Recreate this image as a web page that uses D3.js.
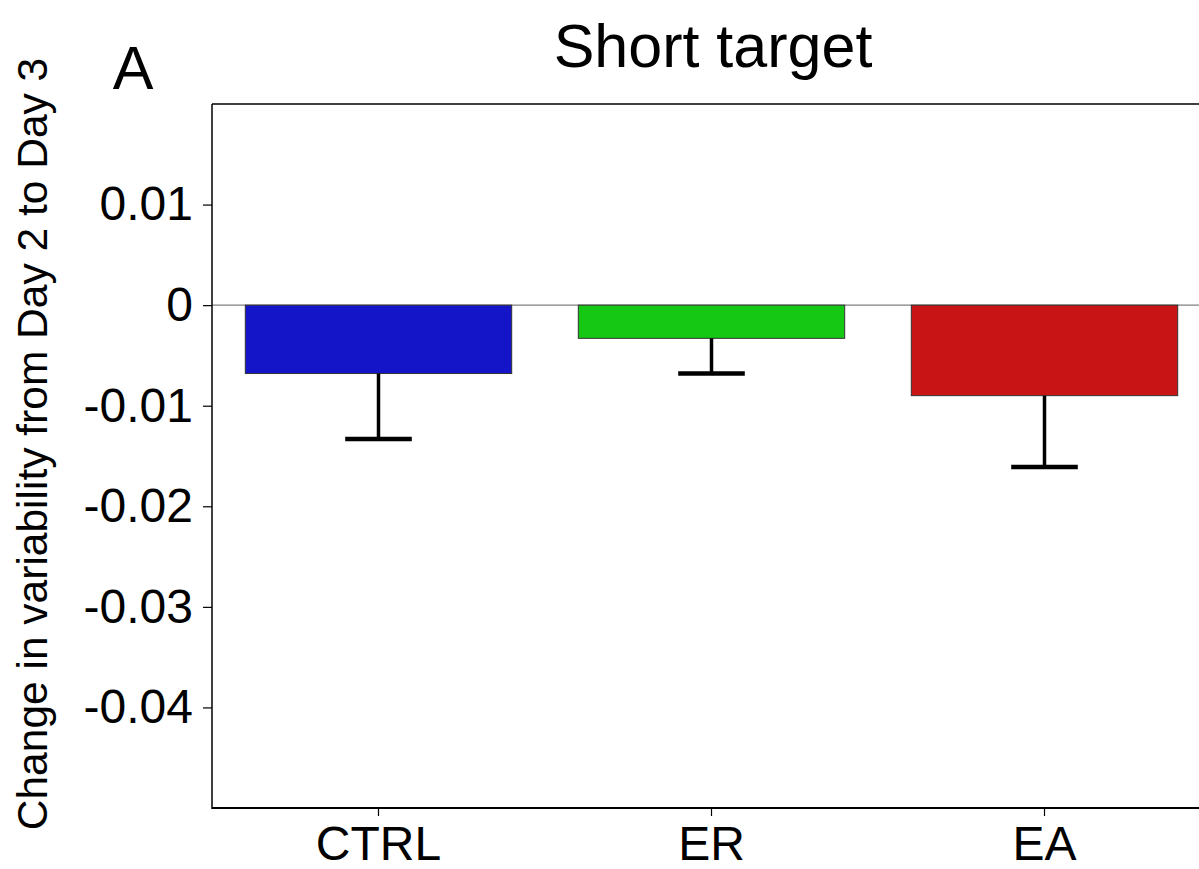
<!DOCTYPE html>
<html>
<head>
<meta charset="utf-8">
<script src="https://cdn.jsdelivr.net/npm/d3@7/dist/d3.min.js"></script>
<style>
  body { margin: 0; background: #fff; }
  svg { display: block; font-family: "Liberation Sans", Arial, sans-serif; }
</style>
</head>
<body>
<div id="chart"></div>
<script>
// data
const groups = ["CTRL", "ER", "EA"];
const means = [-0.0068, -0.0033, -0.0090];
const errs = [0.0065, 0.0035, 0.0071];
const colors = ["#1414c8", "#14c814", "#c81414"];
const yTicks = [0.01, 0, -0.01, -0.02, -0.03, -0.04];
const yTickLabels = ["0.01", "0", "-0.01", "-0.02", "-0.03", "-0.04"];

const W = 1199, H = 869;
const plotL = 212, plotT = 104, plotB = 808, plotR = 1211;

const svg = d3.select('#chart').append('svg')
  .attr('width', W).attr('height', H);

const x = d3.scaleBand().domain(groups).range([plotL, plotR])
  .paddingInner(0.2).paddingOuter(0.1);
const y = d3.scaleLinear().domain([-0.05, 0.02]).range([plotB, plotT]);

// zero line
svg.append('line')
  .attr('x1', plotL).attr('x2', W)
  .attr('y1', y(0)).attr('y2', y(0))
  .attr('stroke', '#808080').attr('stroke-width', 1.2);

// bars
svg.selectAll('rect.bar').data(groups).enter().append('rect')
  .attr('class', 'bar')
  .attr('x', d => x(d))
  .attr('width', x.bandwidth())
  .attr('y', (d, i) => Math.min(y(0), y(means[i])))
  .attr('height', (d, i) => Math.abs(y(means[i]) - y(0)))
  .attr('fill', (d, i) => colors[i])
  .attr('stroke', '#333').attr('stroke-width', 1);

// error bars (downward only)
const capW = x.bandwidth() / 4;
groups.forEach(function (g, i) {
  const cx = x(g) + x.bandwidth() / 2;
  svg.append('line')
    .attr('x1', cx).attr('x2', cx)
    .attr('y1', y(means[i])).attr('y2', y(means[i] - errs[i]))
    .attr('stroke', '#000').attr('stroke-width', 3.5);
  svg.append('line')
    .attr('x1', cx - capW / 2).attr('x2', cx + capW / 2)
    .attr('y1', y(means[i] - errs[i])).attr('y2', y(means[i] - errs[i]))
    .attr('stroke', '#000').attr('stroke-width', 4.5);
});

// frame
svg.append('line').attr('x1', plotL).attr('x2', W).attr('y1', plotT).attr('y2', plotT)
  .attr('stroke', '#000').attr('stroke-width', 1.5);
svg.append('line').attr('x1', plotL).attr('x2', W).attr('y1', plotB).attr('y2', plotB)
  .attr('stroke', '#000').attr('stroke-width', 2);
svg.append('line').attr('x1', plotL).attr('x2', plotL).attr('y1', plotT).attr('y2', plotB + 1)
  .attr('stroke', '#000').attr('stroke-width', 1.5);

// y axis
const yAxis = d3.axisLeft(y).tickValues(yTicks)
  .tickFormat((d, i) => yTickLabels[i]).tickSize(9).tickPadding(10);
const gy = svg.append('g').attr('transform', 'translate(' + plotL + ',0)').call(yAxis);
gy.select('.domain').remove();
gy.selectAll('.tick line').attr('stroke-width', 1.2);
gy.selectAll('.tick text').attr('font-size', 48).attr('fill', '#000')
  .attr('font-family', '"Liberation Sans", Arial, sans-serif');

// x axis
const xAxis = d3.axisBottom(x).tickSize(8).tickPadding(10);
const gx = svg.append('g').attr('transform', 'translate(0,' + plotB + ')').call(xAxis);
gx.select('.domain').remove();
gx.selectAll('.tick line').attr('stroke-width', 1.2);
gx.selectAll('.tick text').attr('font-size', 48).attr('fill', '#000')
  .attr('font-family', '"Liberation Sans", Arial, sans-serif');

// title, panel letter, y label
svg.append('text').attr('x', 713).attr('y', 67).attr('text-anchor', 'middle')
  .attr('font-size', 61).text('Short target');
svg.append('text').attr('x', 133).attr('y', 89).attr('text-anchor', 'middle')
  .attr('font-size', 61).text('A');
svg.append('text')
  .attr('transform', 'translate(47,444) rotate(-90)')
  .attr('text-anchor', 'middle').attr('font-size', 42.5)
  .text('Change in variability from Day 2 to Day 3');
</script>
</body>
</html>
